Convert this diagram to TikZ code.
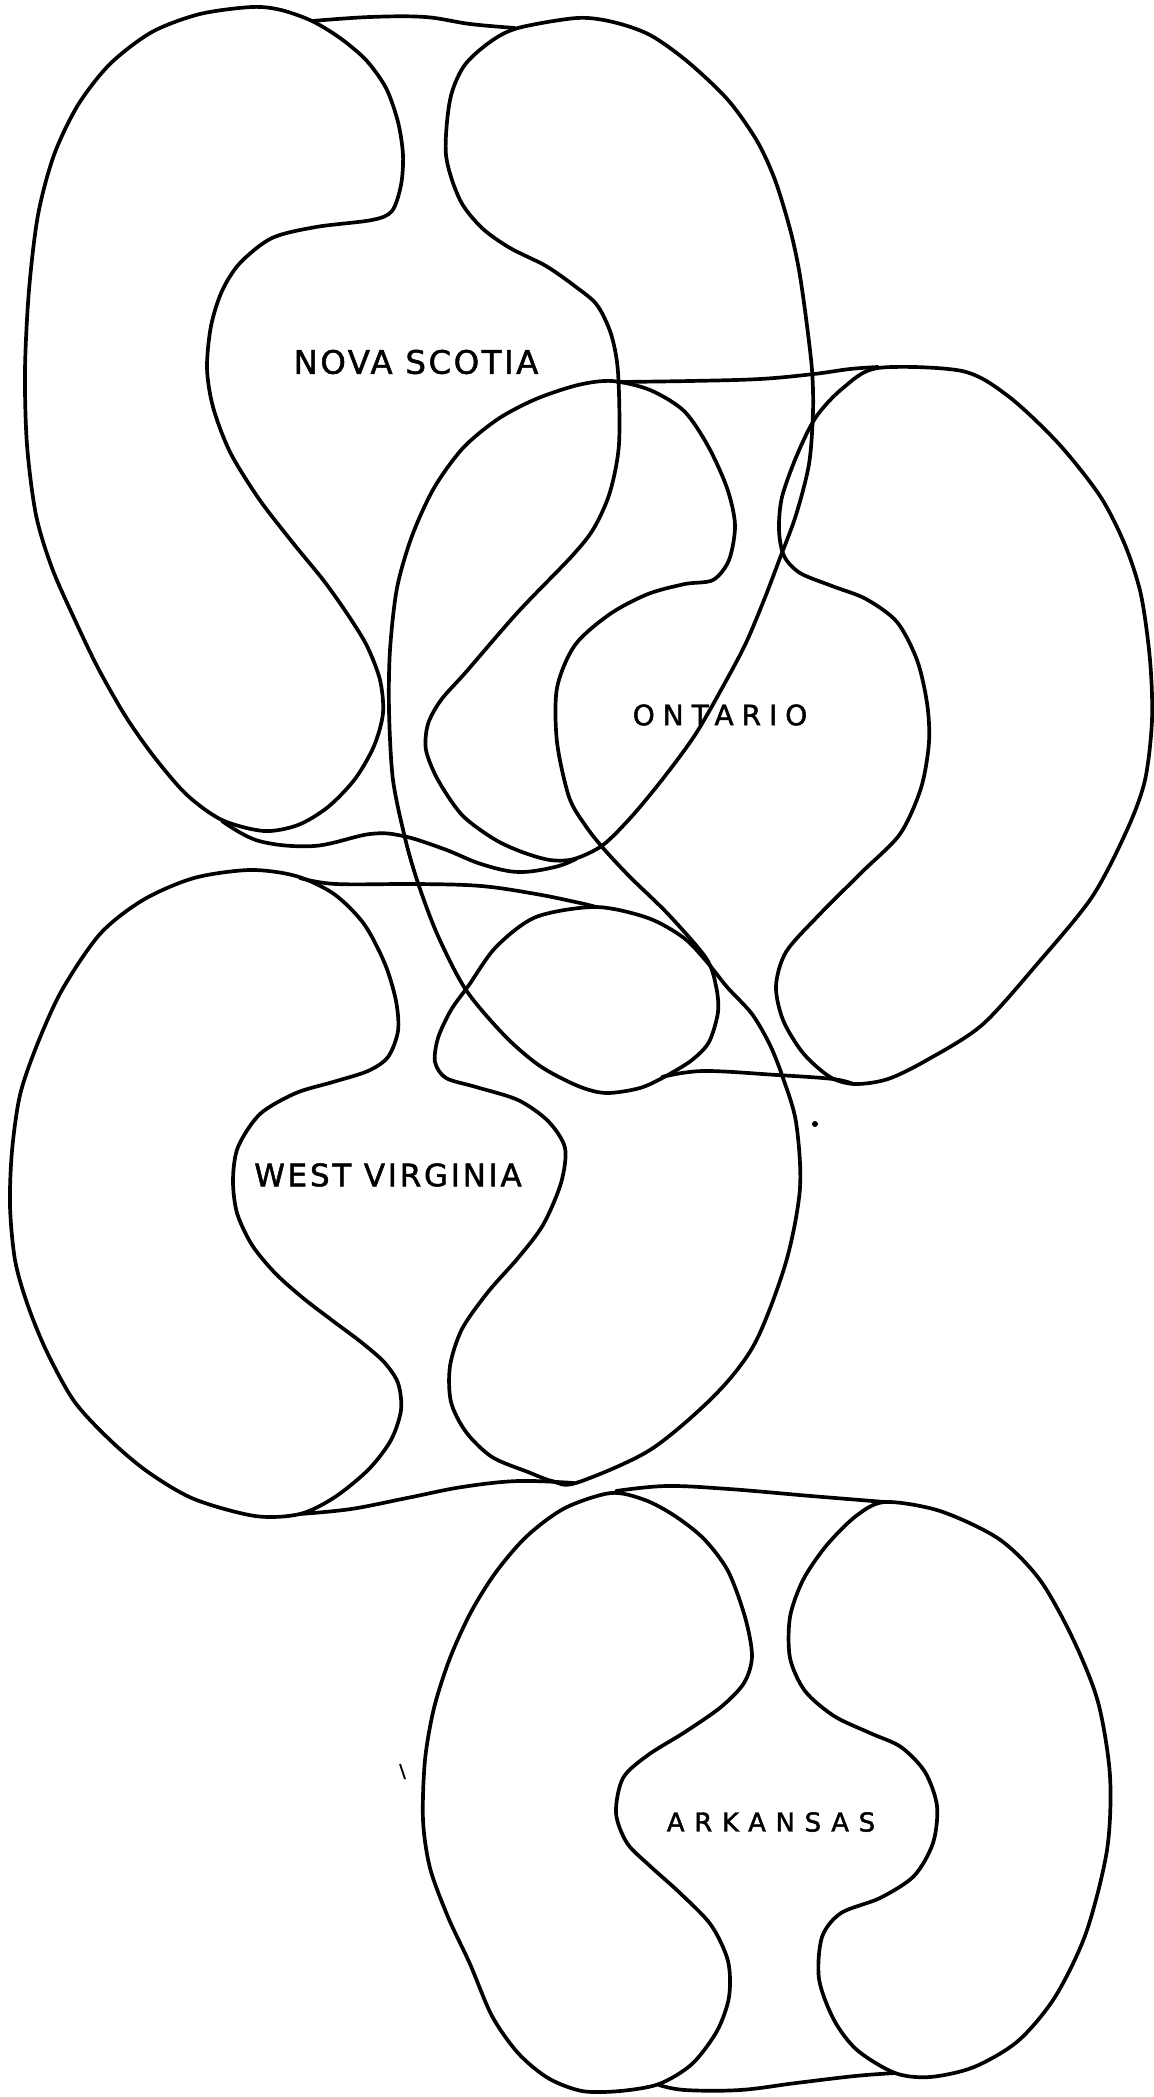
\documentclass[tikz,border=0pt]{standalone}
\usepackage{fontspec}
\newfontfamily\rotfont{DejaVu Sans}[FakeBold=1.6]
\begin{document}
\begin{tikzpicture}[x=0.1mm, y=-0.1mm,
  contorno/.style={line width=1.05pt, line join=round, line cap=round},
  rotulo/.style={font=\rotfont, inner sep=0pt}]

\useasboundingbox (0,0) rectangle (1154,2097);

% Nova Scotia: riñón izquierdo
\draw[contorno] plot[smooth cycle, tension=0.5] coordinates {
  (252,7) (200,14) (152,32) (110,64) (78,105) (54,155) (38,215) (29,290)
  (25,370) (27,445) (36,515) (52,568) (74,618) (98,668) (126,717) (155,758)
  (187,795) (222,820) (264,831) (298,825) (328,807) (355,779) (374,746)
  (383,713) (380,680) (367,646) (348,615) (324,581) (293,543) (259,499)
  (230,452) (213,407) (207,368) (211,326) (222,291) (240,263) (272,238)
  (316,227) (372,220) (392,211) (401,185) (403,155) (398,122) (386,88)
  (366,60) (340,38) (312,21) (281,10)};

% Nova Scotia: riñón derecho
\draw[contorno] plot[smooth cycle, tension=0.5] coordinates {
  (518,28) (577,18) (613,22) (650,35) (688,62) (728,100) (757,141)
  (775,180) (790,229) (799,270) (806,318) (812,370) (813,412) (809,464)
  (796,515) (780,558) (764,600) (745,645) (721,690) (695,735) (665,776)
  (633,815) (603,845) (574,859) (550,860) (522,852) (494,839) (462,815)
  (438,780) (426,750) (428,724) (441,700) (466,672) (518,612) (572,556)
  (594,528) (610,492) (619,444) (618,372) (611,334) (597,305) (576,287)
  (546,266) (510,248) (482,228) (460,200) (446,155) (450,100) (464,66)
  (490,42)};

% Nova Scotia: puentes
\draw[contorno] plot[smooth, tension=0.6] coordinates {
  (312,21) (370,17) (425,17) (470,24) (515,28)};
\draw[contorno] plot[smooth, tension=0.6] coordinates {
  (222,821) (259,841) (314,846) (370,834) (403,836) (444,849) (481,864)
  (518,872) (555,867) (576,859)};

% Ontario: riñón izquierdo
\draw[contorno] plot[smooth cycle, tension=0.5] coordinates {
  (612,381) (578,385) (536,399) (498,419) (463,448) (434,488) (412,536)
  (397,588) (390,650) (389,710) (393,780) (406,842) (419,886) (438,936)
  (466,990) (505,1036) (540,1066) (578,1086) (606,1093) (640,1088)
  (666,1076) (692,1060) (709,1042) (718,1012) (716,986) (706,958)
  (668,914) (630,877) (603,848) (585,825) (569,797) (557,742) (557,688)
  (575,645) (610,614) (648,594) (685,584) (713,580) (729,560) (735,525)
  (727,488) (708,446) (684,411) (650,390)};

% Ontario: riñón derecho
\draw[contorno] plot[smooth cycle, tension=0.5] coordinates {
  (878,368) (962,371) (1008,396) (1058,443) (1100,496) (1125,545)
  (1141,595) (1150,660) (1152,720) (1145,780) (1127,830) (1092,897)
  (1038,963) (982,1025) (927,1060) (888,1079) (855,1084) (830,1077)
  (803,1053) (783,1020) (776,986) (786,952) (818,916) (862,872) (900,834)
  (921,788) (929,742) (927,703) (917,660) (897,622) (866,599) (832,586)
  (800,573) (784,556) (779,530) (782,497) (797,455) (816,417) (843,388)};

% Ontario: puentes
\draw[contorno] plot[smooth, tension=0.6] coordinates {
  (617,382) (690,381) (760,379) (814,374) (850,369) (878,367)};
\draw[contorno] plot[smooth, tension=0.6] coordinates {
  (662,1077) (703,1071) (777,1075) (833,1079) (853,1084)};

% West Virginia: riñón izquierdo
\draw[contorno] plot[smooth cycle, tension=0.5] coordinates {
  (250,870) (194,878) (143,900) (100,934) (62,990) (37,1045) (20,1095)
  (12,1151) (10,1206) (15,1260) (27,1303) (46,1350) (74,1401) (110,1440)
  (148,1472) (194,1499) (255,1516) (300,1514) (335,1497) (369,1469)
  (391,1440) (401,1410) (398,1383) (384,1362) (361,1342) (333,1321)
  (303,1298) (275,1273) (252,1245) (237,1213) (233,1180) (238,1147)
  (260,1114) (296,1093) (333,1082) (368,1071) (388,1057) (398,1031)
  (396,1001) (385,964) (364,924) (334,894) (296,876)};

% West Virginia: riñón derecho
\draw[contorno] plot[smooth cycle, tension=0.5] coordinates {
  (596,907) (648,918) (684,938) (707,962) (727,987) (752,1014) (770,1045)
  (783,1078) (796,1122) (800,1188) (786,1262) (755,1343) (715,1395)
  (650,1450) (576,1483) (552,1481) (528,1472) (492,1457) (466,1432)
  (451,1402) (450,1366) (462,1329) (488,1292) (518,1258) (543,1225)
  (561,1183) (565,1148) (548,1121) (518,1100) (476,1087) (446,1078)
  (435,1062) (438,1038) (451,1010) (469,985) (496,947) (536,917)};

% West Virginia: puentes
\draw[contorno] plot[smooth, tension=0.6] coordinates {
  (300,878) (336,884) (418,884) (481,886) (536,894) (580,903) (596,907)};
\draw[contorno] plot[smooth, tension=0.6] coordinates {
  (300,1514) (351,1509) (407,1498) (462,1487) (518,1481) (574,1483)};

% Arkansas: riñón izquierdo
\draw[contorno] plot[smooth cycle, tension=0.5] coordinates {
  (611,1493) (565,1508) (527,1536) (496,1572) (471,1612) (450,1658)
  (434,1708) (425,1760) (423,1820) (430,1868) (448,1917) (470,1964)
  (492,2016) (518,2053) (548,2078) (582,2091) (620,2091) (659,2084)
  (692,2064) (717,2031) (729,1997) (728,1961) (711,1925) (680,1893)
  (650,1866) (627,1843) (616,1813) (623,1778) (648,1755) (685,1732)
  (721,1707) (744,1683) (752,1656) (745,1617) (728,1571) (704,1539)
  (675,1516) (645,1500)};

% Arkansas: riñón derecho
\draw[contorno] plot[smooth cycle, tension=0.5] coordinates {
  (885,1502) (940,1511) (999,1539) (1040,1580) (1073,1639) (1098,1702)
  (1110,1776) (1107,1850) (1086,1933) (1055,1997) (1018,2041) (974,2067)
  (930,2077) (895,2073) (857,2050) (834,2020) (819,1979) (822,1937)
  (841,1913) (880,1898) (914,1876) (933,1843) (937,1806) (925,1772)
  (901,1747) (870,1733) (834,1716) (805,1691) (790,1658) (790,1617)
  (803,1580) (826,1546) (856,1516)};

% Arkansas: puentes
\draw[contorno] plot[smooth, tension=0.6] coordinates {
  (616,1491) (666,1486) (729,1489) (811,1496) (885,1502)};
\draw[contorno] plot[smooth, tension=0.6] coordinates {
  (659,2085) (685,2090) (740,2090) (796,2083) (855,2076) (895,2073)};

% Marcas sueltas
\fill (815,1124) circle (3);
\draw[line width=0.5pt] (400,1764) -- (405,1779);

% Etiquetas
\node[rotulo] (ns) at (416,362)
  {\fontsize{9.2}{9}\selectfont\addfontfeature{LetterSpace=8}NOVA SCOTIA};
\node[rotulo] (on) at (720,715)
  {\fontsize{8}{8}\selectfont\addfontfeature{LetterSpace=28}ONTARIO};
\node[rotulo] (wv) at (388,1175)
  {\fontsize{8.8}{9}\selectfont\addfontfeature{LetterSpace=9}WEST VIRGINIA};
\node[rotulo] (ar) at (771,1822)
  {\fontsize{7.4}{7}\selectfont\addfontfeature{LetterSpace=37}ARKANSAS};

\end{tikzpicture}
\end{document}
